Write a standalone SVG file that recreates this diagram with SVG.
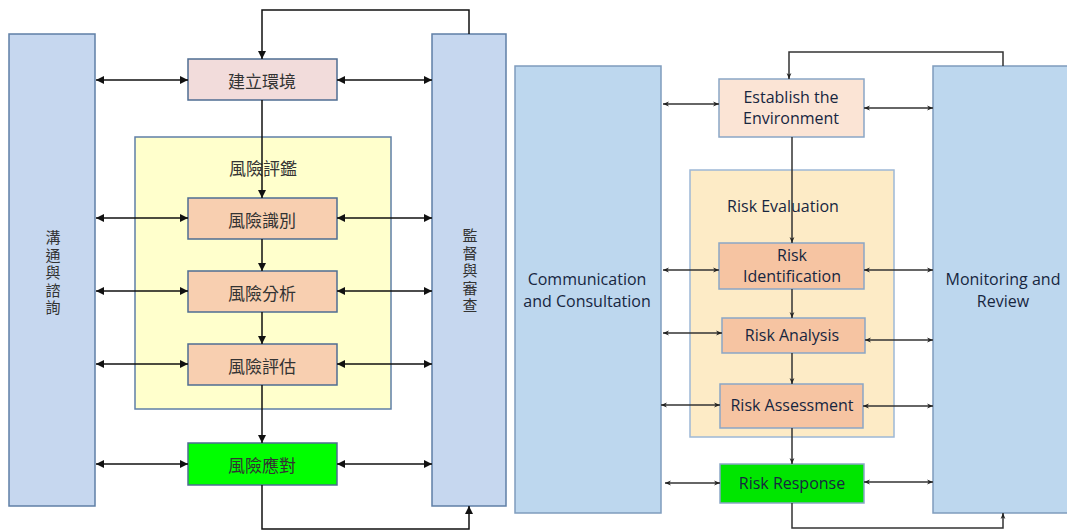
<svg xmlns="http://www.w3.org/2000/svg" width="1067" height="532" viewBox="0 0 1067 532">
<defs>
<marker id="ta" viewBox="0 0 10 10" refX="10" refY="5" markerWidth="8" markerHeight="8" markerUnits="userSpaceOnUse" orient="auto-start-reverse"><path d="M0,0 L10,5 L0,10 Z" fill="#111"/></marker>
<marker id="sa" viewBox="0 0 10 10" refX="10" refY="5" markerWidth="6" markerHeight="6" markerUnits="userSpaceOnUse" orient="auto-start-reverse"><path d="M0,1 L10,5 L0,9 L3,5 Z" fill="#222"/></marker>
<style>
.bar{fill:#c6d7ef;stroke:#5f7fa6;stroke-width:1.5}
.bar2{fill:#bdd7ee;stroke:#7f9cbd;stroke-width:1.5}
.pink{fill:#f2dcdb;stroke:#4f6d92;stroke-width:1.5}
.peach{fill:#f8cfb0;stroke:#4f6d92;stroke-width:1.5}
.green{fill:#00ff00;stroke:#4f6d92;stroke-width:1.5}
.yel{fill:#ffffcc;stroke:#5f7fa6;stroke-width:1.5}
.p2{fill:#fbe4d5;stroke:#8aa6c6;stroke-width:1.5}
.r2{fill:#f6c4a2;stroke:#8aa6c6;stroke-width:1.5}
.g2{fill:#00e600;stroke:#8aa6c6;stroke-width:1.5}
.y2{fill:#fdebc6;stroke:#9db8d6;stroke-width:1.5}
.cj{font-family:"Noto Sans CJK TC","Noto Sans CJK SC",sans-serif;font-size:17px;fill:#333;text-anchor:middle;dominant-baseline:central}
.cv{font-family:"Noto Sans CJK TC","Noto Sans CJK SC",sans-serif;font-size:15px;fill:#333;text-anchor:middle;writing-mode:vertical-rl;letter-spacing:2.5px}
.en{font-family:"Open Sans","Noto Sans",sans-serif;font-size:16px;fill:#17263f;text-anchor:middle;dominant-baseline:central}
.l1{stroke:#111;stroke-width:1.5;fill:none}
.l2{stroke:#333;stroke-width:1.5;fill:none}
</style>
</defs>
<rect width="1067" height="532" fill="#fff"/>

<g id="left-comm"><rect class="bar" x="9" y="34" width="86" height="472"/>
<text class="cv" x="53" y="274">溝通與諮詢</text></g>
<g id="left-monitor"><rect class="bar" x="432" y="34" width="74" height="472"/>
<text class="cv" x="470" y="272">監督與審查</text></g>
<g id="left-eval"><rect class="yel" x="135" y="137" width="256" height="272"/><text class="cj" x="263" y="167">風險評鑑</text></g>
<g id="left-env"><rect class="pink" x="188" y="59" width="149" height="41"/><text class="cj" x="262" y="80">建立環境</text></g>
<g id="left-id"><rect class="peach" x="188" y="198" width="149" height="41"/><text class="cj" x="262" y="219">風險識別</text></g>
<g id="left-an"><rect class="peach" x="188" y="271" width="149" height="41"/><text class="cj" x="262" y="292">風險分析</text></g>
<g id="left-as"><rect class="peach" x="188" y="344" width="149" height="41"/><text class="cj" x="262" y="365">風險評估</text></g>
<g id="left-resp"><rect class="green" x="188" y="443" width="149" height="42"/><text class="cj" x="262" y="464">風險應對</text></g>

<g id="left-connectors">
<path class="l1" d="M469,34 V10 H262 V59" marker-end="url(#ta)"/>
<path class="l1" d="M262,100 V198" marker-end="url(#ta)"/>
<path class="l1" d="M262,239 V271" marker-end="url(#ta)"/>
<path class="l1" d="M262,312 V344" marker-end="url(#ta)"/>
<path class="l1" d="M262,385 V443" marker-end="url(#ta)"/>
<path class="l1" d="M262,485 V529 H469 V506" marker-end="url(#ta)"/>
<path class="l1" d="M96,80 H188" marker-start="url(#ta)" marker-end="url(#ta)"/>
<path class="l1" d="M96,218 H188" marker-start="url(#ta)" marker-end="url(#ta)"/>
<path class="l1" d="M96,291 H188" marker-start="url(#ta)" marker-end="url(#ta)"/>
<path class="l1" d="M96,364 H188" marker-start="url(#ta)" marker-end="url(#ta)"/>
<path class="l1" d="M96,464 H188" marker-start="url(#ta)" marker-end="url(#ta)"/>
<path class="l1" d="M337,80 H432" marker-start="url(#ta)" marker-end="url(#ta)"/>
<path class="l1" d="M337,218 H432" marker-start="url(#ta)" marker-end="url(#ta)"/>
<path class="l1" d="M337,291 H432" marker-start="url(#ta)" marker-end="url(#ta)"/>
<path class="l1" d="M337,364 H432" marker-start="url(#ta)" marker-end="url(#ta)"/>
<path class="l1" d="M337,464 H432" marker-start="url(#ta)" marker-end="url(#ta)"/>
</g>

<g id="right-comm"><rect class="bar2" x="515" y="66" width="146" height="447"/>
<text class="en" x="587" y="279">Communication</text><text class="en" x="587" y="301">and Consultation</text></g>
<g id="right-monitor"><rect class="bar2" x="933" y="66" width="140" height="447"/>
<text class="en" x="1003" y="279">Monitoring and</text><text class="en" x="1003" y="301">Review</text></g>
<g id="right-eval"><rect class="y2" x="690" y="170" width="204" height="267"/><text class="en" x="783" y="206">Risk Evaluation</text></g>
<g id="right-env"><rect class="p2" x="719" y="79" width="145" height="58"/><text class="en" x="791" y="97">Establish the</text><text class="en" x="791" y="118">Environment</text></g>
<g id="right-id"><rect class="r2" x="719" y="243" width="145" height="46"/><text class="en" x="792" y="255">Risk</text><text class="en" x="792" y="276">Identification</text></g>
<g id="right-an"><rect class="r2" x="722" y="318" width="143" height="35"/><text class="en" x="792" y="335">Risk Analysis</text></g>
<g id="right-as"><rect class="r2" x="720" y="384" width="143" height="44"/><text class="en" x="792" y="405">Risk Assessment</text></g>
<g id="right-resp"><rect class="g2" x="720" y="464" width="144" height="39"/><text class="en" x="792" y="483">Risk Response</text></g>

<g id="right-connectors">
<path class="l2" d="M1003,66 V52 H789 V79" marker-end="url(#sa)"/>
<path class="l2" d="M792,137 V243" marker-end="url(#sa)"/>
<path class="l2" d="M792,289 V318" marker-end="url(#sa)"/>
<path class="l2" d="M792,353 V384" marker-end="url(#sa)"/>
<path class="l2" d="M792,428 V464" marker-end="url(#sa)"/>
<path class="l2" d="M792,503 V528 H1003 V513" marker-end="url(#sa)"/>
<path class="l2" d="M663,104 H719" marker-start="url(#sa)" marker-end="url(#sa)"/>
<path class="l2" d="M663,270 H719" marker-start="url(#sa)" marker-end="url(#sa)"/>
<path class="l2" d="M663,333 H722" marker-start="url(#sa)" marker-end="url(#sa)"/>
<path class="l2" d="M661,405 H720" marker-start="url(#sa)" marker-end="url(#sa)"/>
<path class="l2" d="M665,483 H720" marker-start="url(#sa)" marker-end="url(#sa)"/>
<path class="l2" d="M864,108 H933" marker-start="url(#sa)" marker-end="url(#sa)"/>
<path class="l2" d="M864,270 H933" marker-start="url(#sa)" marker-end="url(#sa)"/>
<path class="l2" d="M865,340 H933" marker-start="url(#sa)" marker-end="url(#sa)"/>
<path class="l2" d="M863,406 H933" marker-start="url(#sa)" marker-end="url(#sa)"/>
<path class="l2" d="M864,482 H933" marker-start="url(#sa)" marker-end="url(#sa)"/>
</g>
</svg>
